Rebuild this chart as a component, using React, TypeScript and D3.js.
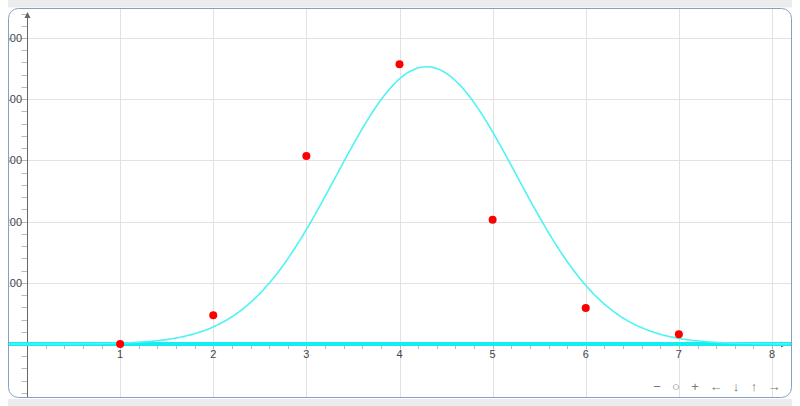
import * as d3 from 'd3';

// measured points
const xValues = [1, 2, 3, 4, 5, 6, 7];
const counts = [0, 47, 307, 457, 203, 59, 16];

// fitted bell curve drawn over the points
const curveCenter = 4.29;
const curvePeak = 453;
const curveSpread = 0.97;

const xTicks = [1, 2, 3, 4, 5, 6, 7, 8];
const yTicks = [100, 200, 300, 400, 500];
const navButtons = ['\u2212', '\u25cb', '+', '\u2190', '\u2193', '\u2191', '\u2192'];

const W = 800;
const H = 406;
const box = { left: 8, top: 8, right: 792, bottom: 398 };

const App = () => {
  const x = d3.scaleLinear().domain([0, 8]).range([27, 772]);
  const y = d3.scaleLinear().domain([0, 500]).range([344, 38]);

  const xMin = x.invert(box.left);
  const xMax = x.invert(box.right);
  const yMin = y.invert(box.bottom);
  const yMax = y.invert(box.top);

  const gauss = (v: number) =>
    curvePeak * Math.exp(-((v - curveCenter) ** 2) / (2 * curveSpread * curveSpread));

  const curvePath =
    d3
      .line<number>()
      .x((v) => x(v))
      .y((v) => y(gauss(v)))(d3.range(xMin, xMax, 0.02)) ?? '';

  const xMinor = d3.range(Math.ceil(xMin * 5), Math.floor(xMax * 5) + 1).map((k) => k / 5);
  const yMinor = d3.range(Math.ceil(yMin / 20), Math.floor(yMax / 20) + 1).map((k) => k * 20);

  const font = '"Liberation Sans", Arial, sans-serif';

  return (
    <svg
      width={W}
      height={H}
      style={{ position: 'absolute', left: 0, top: 0, background: '#fff' }}
    >
      <defs>
        <clipPath id='board'>
          <rect x={box.left} y={box.top} width={box.right - box.left} height={box.bottom - box.top} rx={10} />
        </clipPath>
      </defs>

      <rect x={box.left} y={0} width={box.right - box.left} height={7.5} fill='#ececec' />
      <rect x={box.left} y={399} width={box.right - box.left} height={H - 399} fill='#ececec' />

      <g clipPath='url(#board)'>
        <rect x={box.left} y={box.top} width={box.right - box.left} height={box.bottom - box.top} fill='#fff' />

        {/* grid */}
        <g stroke='#e2e2e2' strokeWidth={1}>
          {xTicks.map((t) => (
            <line key={t} x1={Math.round(x(t)) + 0.5} x2={Math.round(x(t)) + 0.5} y1={box.top} y2={box.bottom} />
          ))}
          {yTicks.map((t) => (
            <line key={t} x1={box.left} x2={box.right} y1={Math.round(y(t)) + 0.5} y2={Math.round(y(t)) + 0.5} />
          ))}
        </g>

        {/* minor ticks */}
        <g stroke='#b8b8b8' strokeWidth={1}>
          {xMinor.map((t) => (
            <line key={t} x1={Math.round(x(t)) + 0.5} x2={Math.round(x(t)) + 0.5} y1={y(0)} y2={y(0) + 5} />
          ))}
          {yMinor.map((t) => (
            <line key={t} x1={x(0) - 5.5} x2={x(0)} y1={Math.round(y(t)) + 0.5} y2={Math.round(y(t)) + 0.5} />
          ))}
        </g>

        {/* axes */}
        <g stroke='#666' strokeWidth={1} fill='#666'>
          <line x1={box.left} x2={x(xMax) - 8} y1={y(0) + 0.5} y2={y(0) + 0.5} />
          <line x1={x(0) + 0.5} x2={x(0) + 0.5} y1={box.bottom} y2={18} />
          <path d={`M${x(xMax) - 5},${y(0) + 0.5} l-6,-3 v6 z`} stroke='none' />
          <path d={`M${x(0) + 0.5},12 l-3,6 h6 z`} stroke='none' />
        </g>

        {/* tick labels */}
        <g fontFamily={font} fontSize={11} fill='#444'>
          {xTicks.map((t) => (
            <text key={t} x={x(t)} y={y(0) + 14} textAnchor='middle'>
              {t}
            </text>
          ))}
          {yTicks.map((t) => (
            <text key={t} x={x(0) - 5} y={y(t) + 4} textAnchor='end'>
              {t}
            </text>
          ))}
        </g>

        <line x1={box.left} x2={box.right} y1={y(0)} y2={y(0)} stroke='#12eef2' strokeWidth={4} />
        <path d={curvePath} fill='none' stroke='#4ff3f5' strokeWidth={1.6} />

        <g fill='#ff0000'>
          {xValues.map((v, i) => (
            <circle key={v} cx={x(v)} cy={y(counts[i])} r={4} />
          ))}
        </g>

        <g fontFamily={font} fontSize={13} fill='#777' textAnchor='middle'>
          {navButtons.map((b, i) => (
            <text key={i} x={[657, 676, 695, 716, 736, 754, 774][i]} y={391}>
              {b}
            </text>
          ))}
        </g>
      </g>

      <rect
        x={box.left + 0.5}
        y={box.top + 0.5}
        width={box.right - box.left - 1}
        height={box.bottom - box.top - 1}
        rx={10}
        fill='none'
        stroke='#84a0c6'
        strokeWidth={1}
      />
    </svg>
  );
};

export default App;
